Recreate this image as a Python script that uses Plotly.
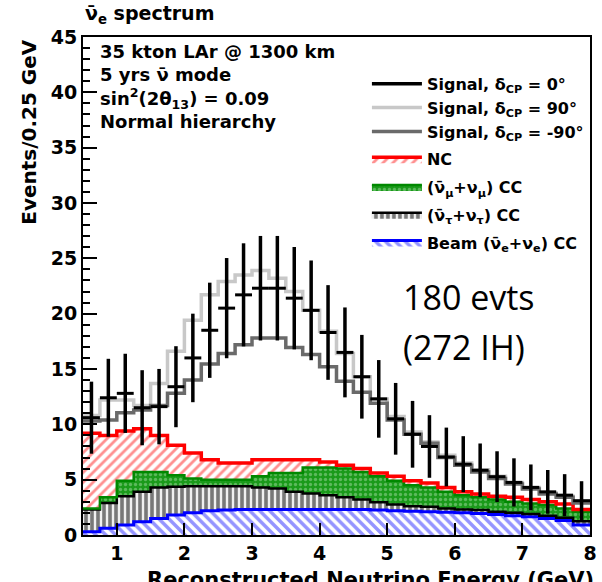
import numpy as np
import plotly.graph_objects as go

# ---------------- data ----------------
bin_lo, bin_w, n_bins = 0.5, 0.25, 30

sig_dcp0 = [10.6, 12.4, 12.8, 11.5, 11.6, 13.4, 16.0, 18.5, 20.5, 21.7, 22.3, 22.3, 21.4, 20.3, 18.3,
            16.5, 14.3, 12.3, 10.5, 9.1, 8.0, 7.05, 6.4, 5.85, 5.27, 4.75, 4.3, 3.9, 3.6, 3.1]
sig_dcp90 = [10.8, 12.2, 12.2, 11.7, 13.7, 16.6, 19.4, 21.7, 22.9, 23.5, 23.9, 23.2, 22.0, 20.3, 18.4,
             16.4, 14.3, 12.3, 10.7, 9.3, 8.4, 7.2, 6.5, 5.9, 5.3, 4.75, 4.3, 3.8, 3.5, 3.0]
sig_dcpm90 = [10.3, 10.4, 11.05, 11.3, 11.7, 12.8, 14.0, 15.45, 16.4, 17.2, 17.8, 17.8, 16.95, 16.3, 15.2,
              13.9, 12.9, 11.9, 10.4, 9.1, 8.3, 7.0, 6.3, 5.7, 5.1, 4.6, 4.15, 3.7, 3.4, 2.9]

# background components (stacked: beam, nutau, numu, NC)
bkg_beam = [0.3, 0.6, 0.9, 1.2, 1.5, 1.8, 2.0, 2.2, 2.25, 2.3, 2.3, 2.3, 2.3, 2.3, 2.3,
            2.3, 2.3, 2.25, 2.2, 2.15, 2.1, 2.05, 2.0, 1.95, 1.85, 1.75, 1.65, 1.5, 1.3, 0.9]
bkg_nutau = [2.0, 2.3, 2.6, 2.7, 2.8, 2.55, 2.4, 2.2, 2.15, 2.1, 2.0, 1.9, 1.6, 1.45, 1.3,
             1.1, 0.9, 0.7, 0.55, 0.45, 0.45, 0.35, 0.3, 0.3, 0.25, 0.25, 0.25, 0.25, 0.25, 0.35]
bkg_numu = [0.1, 0.5, 1.4, 1.8, 1.4, 1.05, 0.7, 0.6, 0.6, 0.6, 1.0, 1.4, 1.7, 2.35, 2.5,
            2.6, 2.5, 2.35, 2.15, 1.9, 1.75, 1.5, 1.3, 1.15, 1.1, 1.0, 0.95, 0.95, 0.85, 0.85]
bkg_nc = [6.8, 5.6, 4.5, 3.9, 3.3, 2.7, 2.3, 1.8, 1.5, 1.5, 1.5, 1.2, 1.2, 0.7, 0.5,
          0.3, 0.3, 0.3, 0.4, 0.4, 0.4, 0.4, 0.3, 0.3, 0.3, 0.4, 0.35, 0.3, 0.4, 0.2]

x_ticks = [1, 2, 3, 4, 5, 6, 7, 8]
y_ticks = [0, 5, 10, 15, 20, 25, 30, 35, 40, 45]

legend_labels = {
    "s0": "Signal, δ<sub>CP</sub> = 0°",
    "s90": "Signal, δ<sub>CP</sub> = 90°",
    "sm90": "Signal, δ<sub>CP</sub> = -90°",
    "nc": "NC",
    "numu": "(ν̄<sub>μ</sub>+ν<sub>μ</sub>) CC",
    "nutau": "(ν̄<sub>τ</sub>+ν<sub>τ</sub>) CC",
    "beam": "Beam (ν̄<sub>e</sub>+ν<sub>e</sub>) CC",
}

# ---------------- derived geometry ----------------
edges = bin_lo + bin_w * np.arange(n_bins + 1)
centers = edges[:-1] + bin_w / 2


def step(vals):
    v = list(vals)
    return v + [v[-1]]


FONT = "DejaVu Sans"
fig = go.Figure()

# stacked backgrounds
stack = [
    ("beam", bkg_beam, "#0000ff", dict(shape="\\", fgcolor="#2a2aff", bgcolor="white", size=7, solidity=0.5), 3),
    ("nutau", bkg_nutau, "#000000", dict(shape="|", fgcolor="#000000", bgcolor="#f0f0f0", size=6, solidity=0.6), 2.5),
    ("numu", bkg_numu, "#008800", dict(shape=".", fgcolor="#9fd89f", bgcolor="#1a9a1a", size=5, solidity=0.35), 2.5),
    ("nc", bkg_nc, "#ff0000", dict(shape="/", fgcolor="#ff2020", bgcolor="white", size=7, solidity=0.4), 3.5),
]
rank = {"s0": 1, "s90": 2, "sm90": 3, "nc": 4, "numu": 5, "nutau": 6, "beam": 7}
cum = np.zeros(n_bins)
for i, (key, vals, col, pat, lw) in enumerate(stack):
    cum = cum + np.array(vals)
    fig.add_trace(go.Scatter(
        x=edges, y=step(cum), mode="lines", line=dict(color=col, width=lw, shape="hv"),
        fill="tozeroy" if i == 0 else "tonexty", fillcolor=pat["bgcolor"], fillpattern=pat,
        name=legend_labels[key], legendrank=rank[key], legendgroup=key, hoverinfo="skip"))

# signal hypotheses
fig.add_trace(go.Scatter(x=edges, y=step(sig_dcp90), mode="lines",
                         line=dict(color="#c8c8c8", width=3.5, shape="hv"),
                         name=legend_labels["s90"], legendrank=rank["s90"], legendgroup="sig"))
fig.add_trace(go.Scatter(x=edges, y=step(sig_dcpm90), mode="lines",
                         line=dict(color="#6a6a6a", width=3.5, shape="hv"),
                         name=legend_labels["sm90"], legendrank=rank["sm90"], legendgroup="sig"))

# delta_CP = 0 signal with statistical errors
err = np.sqrt(np.array(sig_dcp0))
fig.add_trace(go.Scatter(
    x=centers, y=sig_dcp0, mode="markers", marker=dict(size=1, color="black"),
    error_y=dict(type="data", array=err, color="black", thickness=3.5, width=0),
    error_x=dict(type="constant", value=bin_w / 2, color="black", thickness=3, width=0),
    showlegend=False, legendgroup="sig"))
fig.add_trace(go.Scatter(x=[None], y=[None], mode="lines", line=dict(color="black", width=3.5),
                         name=legend_labels["s0"], legendrank=rank["s0"], legendgroup="sig"))

# ---------------- annotations ----------------
ann = []
ann.append(dict(text="<b>ν̄<sub>e</sub> spectrum</b>", xref="paper", yref="paper", x=0.0, y=1.045,
                xanchor="left", yanchor="middle", showarrow=False, font=dict(family=FONT, size=19, color="black")))
ann.append(dict(text="<b>35 kton LAr @ 1300 km<br>5 yrs ν̄ mode<br>sin<sup>2</sup>(2θ<sub>13</sub>) = 0.09<br>Normal hierarchy</b>",
                xref="paper", yref="paper", x=0.03, y=0.995, xanchor="left", yanchor="top", align="left",
                showarrow=False, font=dict(family=FONT, size=18, color="black")))
ann.append(dict(text="180 evts", xref="paper", yref="paper", x=0.6265, y=0.478,
                xanchor="left", yanchor="middle", showarrow=False,
                font=dict(family="Open Sans", size=34, color="black")))
ann.append(dict(text="(272 IH)", xref="paper", yref="paper", x=0.6265, y=0.3775,
                xanchor="left", yanchor="middle", showarrow=False,
                font=dict(family="Open Sans", size=34, color="black")))
ann.append(dict(text="<b>Events/0.25 GeV</b>", xref="paper", yref="paper", x=-0.107, y=1.0,
                xanchor="center", yanchor="top", textangle=-90, showarrow=False,
                font=dict(family=FONT, size=20, color="black")))
ann.append(dict(text="<b>Reconstructed Neutrino Energy (GeV)</b>", xref="paper", yref="paper", x=1.012, y=-0.09,
                xanchor="right", yanchor="middle", showarrow=False,
                font=dict(family=FONT, size=21, color="black")))

fig.update_layout(
    width=602, height=582, margin=dict(l=83, r=5, t=37, b=47),
    paper_bgcolor="white", plot_bgcolor="white",
    annotations=ann,
    showlegend=True,
    legend=dict(x=0.56, y=0.94, xanchor="left", yanchor="top", bgcolor="rgba(255,255,255,1)",
                font=dict(family=FONT, size=16, color="black", weight="bold"),
                itemwidth=50, tracegroupgap=4, traceorder="grouped"),
)
fig.update_xaxes(range=[bin_lo, bin_lo + n_bins * bin_w], tickvals=x_ticks, ticks="inside", ticklen=12,
                 tickwidth=2, tickcolor="black", showline=True, linecolor="black", linewidth=2, mirror=True,
                 showgrid=False, zeroline=False,
                 tickfont=dict(family=FONT, size=19, color="black", weight="bold"))
fig.update_yaxes(range=[0, 45], tickvals=y_ticks, ticks="inside", ticklen=14, tickwidth=2, tickcolor="black",
                 minor=dict(ticks="inside", ticklen=7, dtick=1, tickcolor="black", tickwidth=1.5),
                 showline=True, linecolor="black", linewidth=2, mirror=True, showgrid=False, zeroline=False,
                 tickfont=dict(family=FONT, size=19, color="black", weight="bold"))

fig.write_html("out.html")
